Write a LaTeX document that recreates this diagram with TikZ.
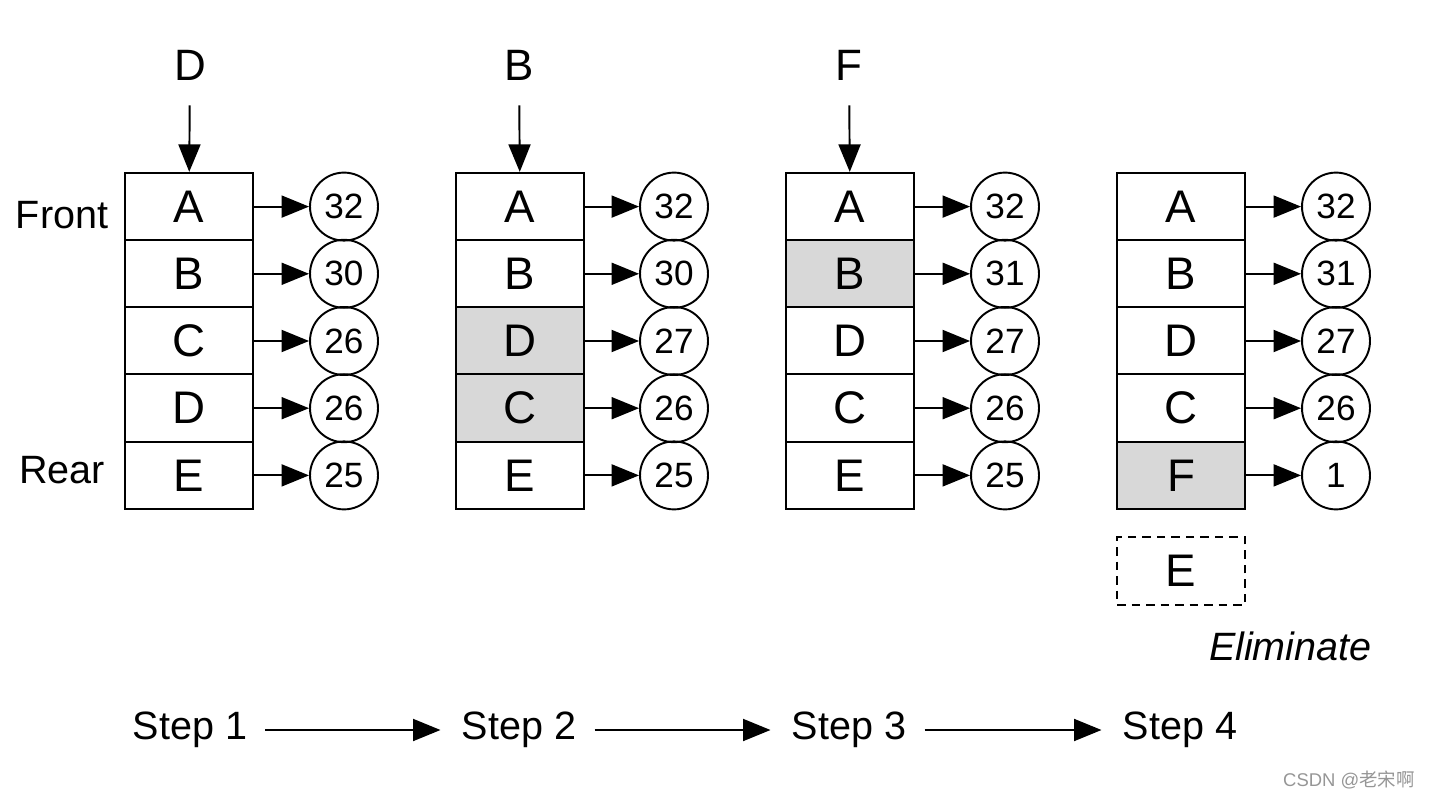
\documentclass[tikz,border=0pt]{standalone}
\usepackage{fontspec}
\setmainfont{Liberation Sans}
\newfontfamily\cjkfont{Noto Sans CJK SC}
\usetikzlibrary{arrows.meta}
\definecolor{cellgray}{RGB}{216,216,216}
\definecolor{markgray}{RGB}{150,150,150}
\tikzset{
  cell/.style={draw, line width=1.1pt, minimum width=2.56cm, minimum height=1.35cm, inner sep=0pt, font=\fontsize{26}{30}\selectfont},
  count/.style={draw, circle, line width=1.1pt, minimum size=1.36cm, inner sep=0pt, font=\fontsize{20}{24}\selectfont},
  arr/.style={-{Triangle[length=0.55cm,width=0.44cm]}, line width=1.1pt},
  lbl/.style={inner sep=0pt, font=\fontsize{22.5}{26}\selectfont},
  page/.style={inner sep=0pt, font=\fontsize{25}{30}\selectfont},
}
\begin{document}
\begin{tikzpicture}[x=0.02cm, y=-0.02cm]
\useasboundingbox (0,0) rectangle (1430,800);
%step 1
\node[page] (in1) at (190,65) {D};
\foreach \r/\l/\n/\f in {1/A/32/white, 2/B/30/white, 3/C/26/white, 4/D/26/white, 5/E/25/white} {
  \node[cell, fill=\f] (q1r\r) at (189, {139.4+67.2*\r}) {\l};
  \node[count] (v1r\r) at (344, {139.4+67.2*\r}) {\n};
  \draw[arr] (q1r\r) -- (v1r\r);
}
\draw[arr, shorten <=0.5cm] (in1) -- (q1r1);
\node[lbl] (front) at (62,215) {Front};
\node[lbl] (rear) at (62,470) {Rear};

%step 2
\node[page] (in2) at (519,65) {B};
\foreach \r/\l/\n/\f in {1/A/32/white, 2/B/30/white, 3/D/27/cellgray, 4/C/26/cellgray, 5/E/25/white} {
  \node[cell, fill=\f] (q2r\r) at (520, {139.4+67.2*\r}) {\l};
  \node[count] (v2r\r) at (674, {139.4+67.2*\r}) {\n};
  \draw[arr] (q2r\r) -- (v2r\r);
}
\draw[arr, shorten <=0.5cm] (in2) -- (q2r1);

%step 3
\node[page] (in3) at (849,65) {F};
\foreach \r/\l/\n/\f in {1/A/32/white, 2/B/31/cellgray, 3/D/27/white, 4/C/26/white, 5/E/25/white} {
  \node[cell, fill=\f] (q3r\r) at (850, {139.4+67.2*\r}) {\l};
  \node[count] (v3r\r) at (1005, {139.4+67.2*\r}) {\n};
  \draw[arr] (q3r\r) -- (v3r\r);
}
\draw[arr, shorten <=0.5cm] (in3) -- (q3r1);

%step 4
\foreach \r/\l/\n/\f in {1/A/32/white, 2/B/31/white, 3/D/27/white, 4/C/26/white, 5/F/1/cellgray} {
  \node[cell, fill=\f] (q4r\r) at (1181, {139.4+67.2*\r}) {\l};
  \node[count] (v4r\r) at (1336, {139.4+67.2*\r}) {\n};
  \draw[arr] (q4r\r) -- (v4r\r);
}
\node[cell, dash pattern=on 0.17cm off 0.12cm] (out) at (1181,571) {E};
\node[lbl, anchor=east, font=\fontsize{22.5}{26}\selectfont\itshape] (elim) at (1372,646) {Eliminate};

%steps
\node[lbl] (s1) at (190,730) {Step 1};
\node[lbl] (s2) at (519,730) {Step 2};
\node[lbl] (s3) at (849,730) {Step 3};
\node[lbl] (s4) at (1180,730) {Step 4};
\draw[arr, shorten <=0.36cm, shorten >=0.42cm] (s1) -- (s2);
\draw[arr, shorten <=0.36cm, shorten >=0.42cm] (s2) -- (s3);
\draw[arr, shorten <=0.36cm, shorten >=0.42cm] (s3) -- (s4);

\node[anchor=east, inner sep=0pt, text=markgray, font=\fontsize{10.5}{12}\selectfont] (mark) at (1415,780) {CSDN @{\cjkfont 老宋啊}};
\end{tikzpicture}
\end{document}
